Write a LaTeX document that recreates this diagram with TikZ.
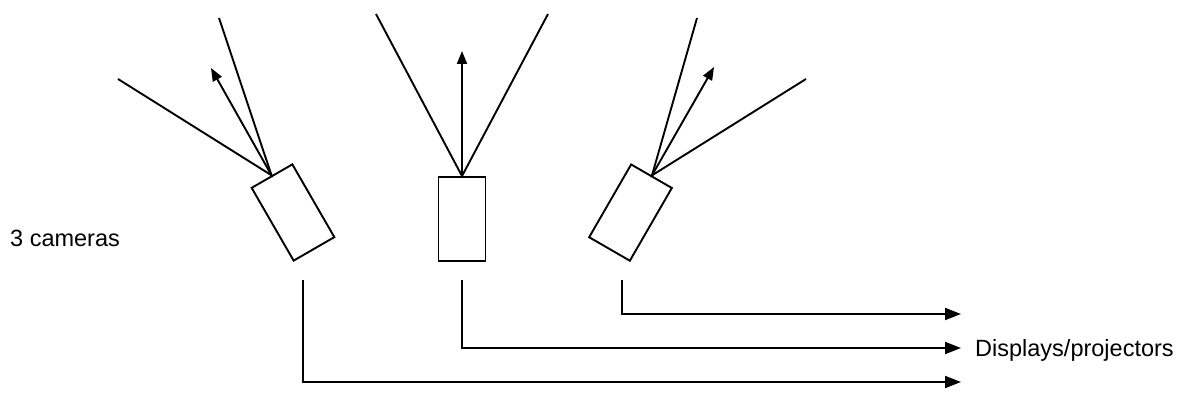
\documentclass[tikz,border=0pt]{standalone}
\usepackage{fontspec}
\setmainfont{Liberation Sans}
\usetikzlibrary{arrows.meta}
\begin{document}
\begin{tikzpicture}[x=1pt,y=-1pt,
  ln/.style={line width=1.9pt},
  cam/.style={draw,line width=1.9pt,minimum width=47pt,minimum height=84pt,inner sep=0pt},
  viewarrow/.style={ln,-{Triangle[length=13pt,width=10pt]}},
  outarrow/.style={ln,-{Triangle[length=16pt,width=12pt]}},
  lbl/.style={font=\fontsize{23.5}{27}\selectfont,anchor=west,inner sep=0pt}]
\useasboundingbox (0,0) rectangle (1200,403);
% cameras
\node[cam,rotate=30] (c1) at (293,212.5) {};
\node[cam] (c2) at (462,219) {};
\node[cam,rotate=-30] (c3) at (630.5,212.6) {};
% view coordinates
\coordinate (l1) at (118,79);
\coordinate (r1) at (219,18);
\coordinate (a1) at (211,68);
\coordinate (l2) at (376,14);
\coordinate (r2) at (548,14);
\coordinate (a2) at (462,51);
\coordinate (l3) at (697,18);
\coordinate (r3) at (806,79);
\coordinate (a3) at (714,67);
\draw[ln] (l1) -- (c1.north) -- (r1);
\draw[viewarrow] (c1.north) -- (a1);
\draw[ln] (l2) -- (c2.north) -- (r2);
\draw[viewarrow] (c2.north) -- (a2);
\draw[ln] (l3) -- (c3.north) -- (r3);
\draw[viewarrow] (c3.north) -- (a3);
% outputs
\coordinate (s1) at (303,280);
\coordinate (s2) at (462,280);
\coordinate (s3) at (622,280);
\coordinate (e1) at (961,382);
\coordinate (e2) at (961,348);
\coordinate (e3) at (961,314);
\draw[outarrow] (s1) |- (e1);
\draw[outarrow] (s2) |- (e2);
\draw[outarrow] (s3) |- (e3);
% labels
\node[lbl] (t1) at (10,238) {3 cameras};
\node[lbl] (t2) at (975,350) {Displays/projectors};
\end{tikzpicture}
\end{document}
